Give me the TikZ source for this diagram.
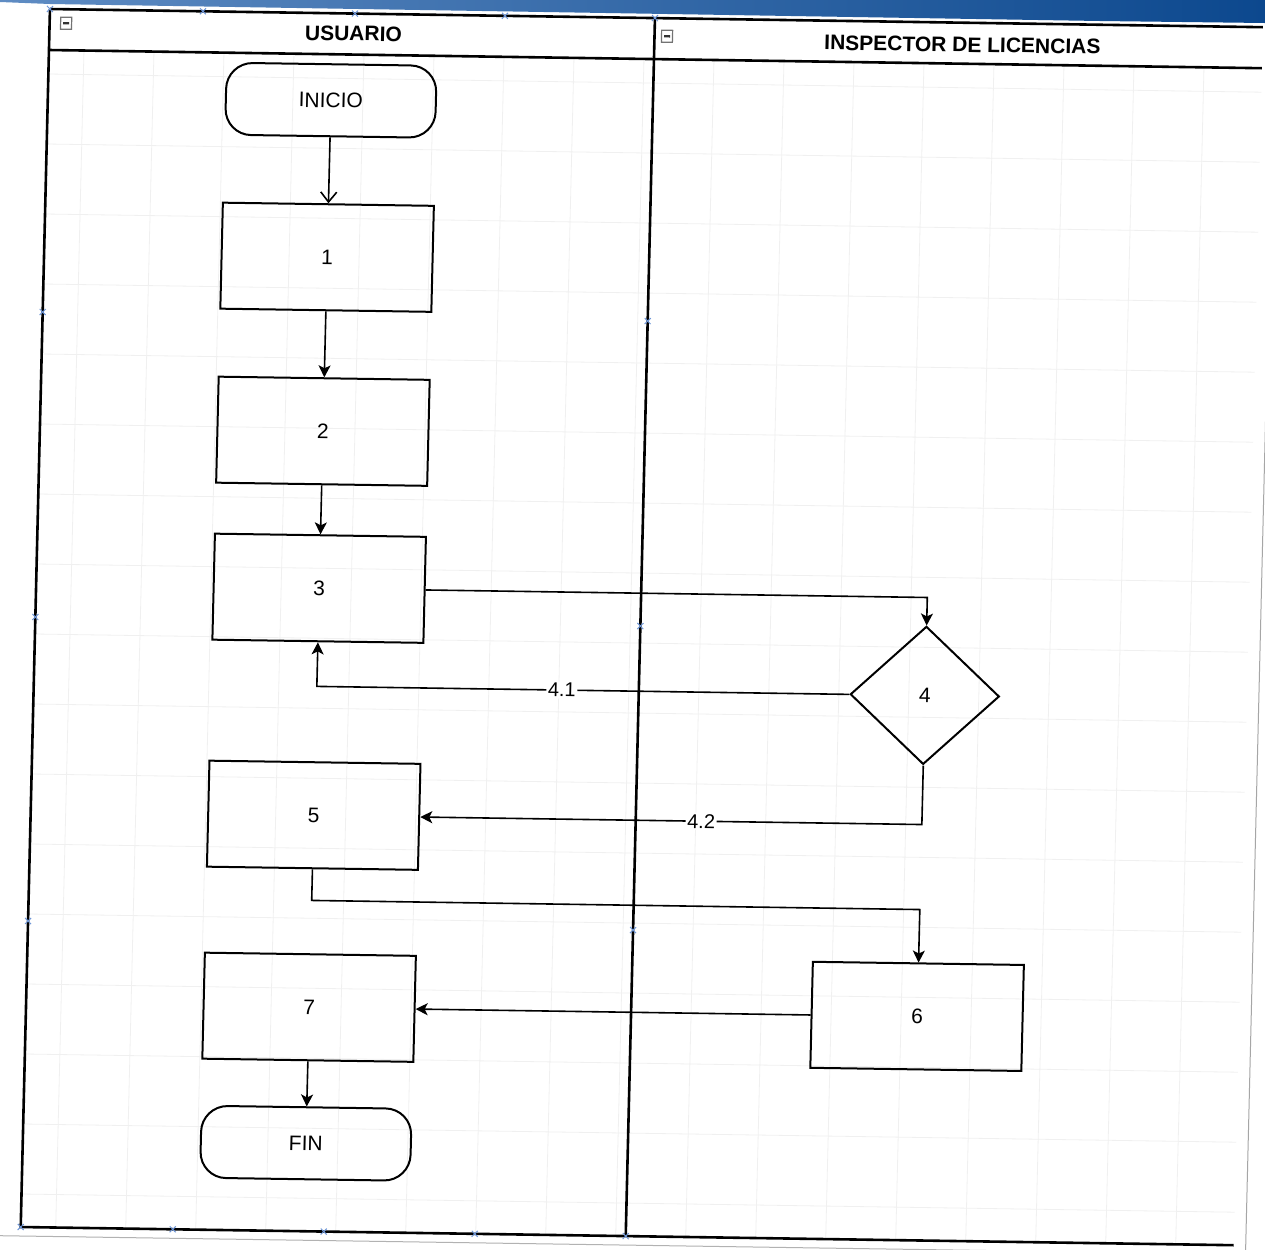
\documentclass[tikz,border=0pt]{standalone}
\usepackage{fontspec}
\setmainfont{Liberation Sans}
\usetikzlibrary{shapes.geometric,arrows.meta}
\definecolor{bandL}{RGB}{95,140,195}
\definecolor{bandM}{RGB}{35,105,170}
\definecolor{bandR}{RGB}{12,72,142}
\definecolor{markblue}{RGB}{110,150,215}
\begin{document}
\begin{tikzpicture}[x=0.5pt,y=0.5pt,
  lane/.style={line width=1.3pt},
  box/.style={draw, line width=1pt, minimum width=105.5pt, minimum height=53pt,
    inner sep=0pt, font=\fontsize{10.5}{12}\selectfont},
  term/.style={box, rounded corners=13pt, minimum width=105pt, minimum height=36pt},
  dec/.style={draw, diamond, line width=1pt, minimum width=74.5pt, minimum height=69pt,
    inner sep=0pt, font=\fontsize{10.5}{12}\selectfont},
  flow/.style={line width=0.8pt, -{Stealth[length=6pt,width=6pt,inset=1.5pt]}},
  openflow/.style={line width=0.8pt, -{Straight Barb[length=5pt,width=8pt]}},
  elabel/.style={fill=white, inner sep=0.8pt, font=\fontsize{10}{12}\selectfont},
  gridline/.style={black!6, line width=0.4pt},
  title/.style={font=\bfseries\fontsize{10.5}{12}\selectfont, inner sep=0pt},
  bluex/.style={markblue, line width=0.5pt}
]
\useasboundingbox (0,0) rectangle (1265,-1249);
\clip (0,0) rectangle (1265,-1249);
\fill[white] (0,0) rectangle (1265,-1249);
% top band of the scanned screenshot
\shade[left color=bandL, middle color=bandM, right color=bandR]
  (0,0) -- (1265,0) -- (1265,-23) -- (1100,-21) -- (50,-4) -- (0,-2) -- cycle;
\begin{scope}[cm={1,-0.015,0.024,1,(50,-7)}, transform shape]
  % grid
  \foreach \gx in {35,105,...,1190} \draw[gridline] (\gx,-44) -- (\gx,-1220);
  \foreach \gy in {67,137,...,1190} \draw[gridline] (0,-\gy) -- (1213,-\gy);
  % page edges
  \draw[black!35, line width=0.5pt] (1225,40) -- (1225,-1260);
  \draw[black!30, line width=0.5pt] (-40,-1229) -- (1213,-1229);
  % lanes
  \draw[lane] (0,-2) -- (1213,-2);
  \draw[lane] (0,-43) -- (1213,-43);
  \draw[lane] (0,-2) -- (0,-1220) -- (1213,-1220);
  \draw[lane] (605,-2) -- (605,-1220);
  % collapse icons
  \draw[black!55, line width=0.6pt] (11,-10) rectangle (22,-22);
  \draw[black!80, line width=1.2pt] (13.5,-16) -- (19.5,-16);
  \draw[black!55, line width=0.6pt] (612,-14) rectangle (623,-26);
  \draw[black!80, line width=1.2pt] (614.5,-20) -- (620.5,-20);
  % lane connection markers
  \foreach \mx/\my in {0/2,153/2,305/2,455/2,605/2,0/305,0/610,0/914,605/305,605/610,605/914,
                      0/1220,152/1220,303/1220,454/1220,605/1220}
    {\draw[bluex] (\mx-3,-\my-3) -- (\mx+3,-\my+3) (\mx-3,-\my+3) -- (\mx+3,-\my-3);}
  % titles
  \node[title] (t1) at (304,-22) {USUARIO};
  \node[title] (t2) at (913,-24) {INSPECTOR DE LICENCIAS};
  % nodes
  \node[term] (ini) at (283,-89) {INICIO};
  \node[box] (b1) at (283,-246) {1};
  \node[box] (b2) at (283,-420) {2};
  \node[box] (b3) at (283,-577) {3};
  \node[dec] (d4) at (891,-675) {4};
  \node[box] (b5) at (283,-804) {5};
  \node[box] (b6) at (891,-996) {6};
  \node[box] (b7) at (283,-996) {7};
  \node[term] (fin) at (283,-1132) {FIN};
  % connectors
  \draw[openflow] (ini) -- (b1);
  \draw[flow] (b1) -- (b2);
  \draw[flow] (b2) -- (b3);
  \draw[flow] (b3.east) -| (d4.north);
  \draw[flow] (d4.west) -| node[elabel, pos=0.27] {4.1} (b3.south);
  \draw[flow] (d4.south) |- node[elabel, pos=0.72] {4.2} (b5.east);
  \coordinate (m56) at (283,-889);
  \draw[flow] (b5.south) -- (m56) -| (b6.north);
  \draw[flow] (b6.west) -- (b7.east);
  \draw[flow] (b7) -- (fin);
\end{scope}
\end{tikzpicture}
\end{document}
